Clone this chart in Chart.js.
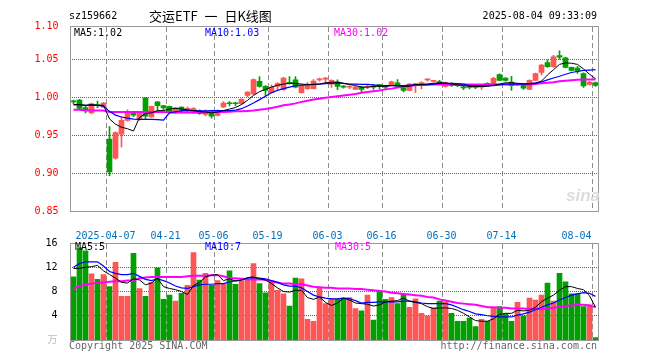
<!DOCTYPE html>
<html><head><meta charset="utf-8">
<script src="https://cdn.jsdelivr.net/npm/chart.js@4.4.1/dist/chart.umd.min.js"></script>
<style>
html,body{margin:0;padding:0;background:#fff;width:660px;height:360px;overflow:hidden;position:relative;}
canvas{position:absolute;left:0;}
.t{position:absolute;font:10px 'DejaVu Sans Mono',monospace;line-height:12px;white-space:pre;}
</style></head><body>
<canvas id="pc" width="660" height="240" style="top:0"></canvas>
<canvas id="vc" width="660" height="128" style="top:232px"></canvas>
<div class="t" style="left:69px;top:10px;color:#000">sz159662</div>
<div class="t" style="left:149px;top:7px;font:13px 'Noto Sans CJK SC',sans-serif;line-height:17px;word-spacing:4px;color:#000">交运ETF 一 日K线图</div>
<div class="t" style="right:63px;top:10px;color:#000">2025-08-04 09:33:09</div>
<div class="t" style="left:74px;top:27px;color:#000">MA5:1.02</div>
<div class="t" style="left:205px;top:27px;color:#0000ff">MA10:1.03</div>
<div class="t" style="left:334px;top:27px;color:#ff00ff">MA30:1.02</div>
<div class="t" style="left:75px;top:241px;color:#000">MA5:5</div>
<div class="t" style="left:205px;top:241px;color:#0000ff">MA10:7</div>
<div class="t" style="left:335px;top:241px;color:#ff00ff">MA30:5</div>
<div class="t" style="left:69px;top:340px;color:#666">Copyright 2025 SINA.COM</div>
<div class="t" style="right:63px;top:340px;color:#666">http://finance.sina.com.cn</div>
<div class="t" style="left:566px;top:186px;font:italic bold 17px 'Liberation Sans',sans-serif;color:#dcdcdc">sina</div>
<script>
const dates = ['03-27','03-28','03-31','04-01','04-02','04-03','04-07','04-08','04-09','04-10',
'04-11','04-14','04-15','04-16','04-17','04-18','04-21','04-22','04-23','04-24',
'04-25','04-28','04-29','04-30','05-06','05-07','05-08','05-09','05-12','05-13',
'05-14','05-15','05-16','05-19','05-20','05-21','05-22','05-23','05-26','05-27',
'05-28','05-29','05-30','06-03','06-04','06-05','06-06','06-09','06-10','06-11',
'06-12','06-13','06-16','06-17','06-18','06-19','06-20','06-23','06-24','06-25',
'06-26','06-27','06-30','07-01','07-02','07-03','07-04','07-07','07-08','07-09',
'07-10','07-11','07-14','07-15','07-16','07-17','07-18','07-21','07-22','07-23',
'07-24','07-25','07-28','07-29','07-30','07-31','08-01','08-04'];

const open = [0.995,0.997,0.987,0.980,0.990,0.9876,0.9455,0.920,0.952,0.970,
0.980,0.972,1.000,0.9745,0.9947,0.9895,0.9886,0.980,0.9876,0.9845,
0.980,0.983,0.978,0.980,0.9767,0.988,0.9925,0.9925,0.992,1.003,
1.005,1.0215,1.015,1.0066,1.015,1.0105,1.0195,1.0237,1.0066,1.012,
1.012,1.0235,1.0245,1.018,1.0205,1.0145,1.0138,1.011,1.014,1.0138,
1.0145,1.0163,1.0145,1.0168,1.0197,1.013,1.0096,1.0175,1.0166,1.0235,
1.0215,1.0205,1.015,1.019,1.0163,1.0133,1.0138,1.014,1.0138,1.018,
1.017,1.0307,1.0258,1.0205,1.0173,1.0175,1.011,1.023,1.0335,1.0465,
1.041,1.0555,1.0528,1.040,1.039,1.032,1.0175,1.020];

const close = [0.9945,0.986,0.983,0.992,0.9895,0.993,0.902,0.954,0.970,0.980,
0.977,0.981,0.9755,0.9886,0.9895,0.9865,0.9816,0.9868,0.9833,0.985,
0.9855,0.979,0.982,0.9755,0.983,0.993,0.992,0.992,0.998,1.0074,
1.024,1.015,1.0096,1.014,1.0185,1.0258,1.019,1.014,1.016,1.016,
1.0218,1.024,1.025,1.0228,1.015,1.014,1.0143,1.014,1.011,1.0143,
1.014,1.016,1.014,1.021,1.015,1.0096,1.018,1.018,1.020,1.024,
1.022,1.020,1.020,1.016,1.016,1.013,1.0135,1.0137,1.0142,1.0177,
1.0255,1.023,1.0228,1.016,1.0177,1.0126,1.023,1.032,1.043,1.041,
1.054,1.0535,1.040,1.036,1.035,1.0155,1.0205,1.0163];

const high = [0.997,0.998,0.9895,0.993,0.9955,0.994,0.962,0.955,0.975,0.984,
0.982,0.982,1.000,0.989,0.995,0.990,0.989,0.987,0.988,0.988,
0.987,0.984,0.984,0.981,0.984,0.995,0.995,0.994,0.999,1.008,
1.025,1.028,1.016,1.017,1.020,1.027,1.028,1.028,1.017,1.020,
1.024,1.026,1.027,1.0235,1.0235,1.016,1.016,1.015,1.015,1.017,
1.017,1.0175,1.0165,1.022,1.024,1.0135,1.0185,1.019,1.021,1.0245,
1.023,1.023,1.0205,1.0195,1.018,1.015,1.016,1.015,1.0155,1.0195,
1.027,1.0315,1.0265,1.0284,1.019,1.0178,1.0237,1.0325,1.044,1.050,
1.056,1.062,1.0535,1.0405,1.0415,1.033,1.0215,1.0205];

const low = [0.992,0.985,0.980,0.979,0.987,0.987,0.897,0.919,0.935,0.969,
0.975,0.970,0.972,0.974,0.983,0.984,0.981,0.979,0.980,0.980,
0.979,0.978,0.976,0.973,0.976,0.987,0.989,0.989,0.991,1.001,
1.004,1.014,1.002,1.006,1.0105,1.0095,1.018,1.013,1.006,1.011,
1.0115,1.022,1.019,1.0135,1.0105,1.0125,1.012,1.0105,1.0066,1.012,
1.011,1.0115,1.011,1.016,1.0145,1.0075,1.009,1.007,1.0115,1.022,
1.0205,1.018,1.014,1.015,1.0145,1.0105,1.0115,1.012,1.011,1.016,
1.0165,1.0225,1.022,1.0096,1.016,1.011,1.0105,1.0225,1.030,1.040,
1.040,1.051,1.0395,1.0355,1.032,1.0135,1.0165,1.015];

const ma5 = [0.991,0.991,0.990,0.991,0.990,0.990,0.972,0.965,0.961,0.959,
0.956,0.974,0.979,0.980,0.983,0.983,0.985,0.986,0.985,0.984,
0.983,0.9815,0.981,0.980,0.981,0.983,0.985,0.987,0.991,0.9965,
1.003,1.008,1.011,1.014,1.0165,1.018,1.019,1.019,1.018,1.0175,
1.0175,1.018,1.0197,1.0205,1.0205,1.019,1.0175,1.016,1.014,1.014,
1.015,1.015,1.0152,1.016,1.016,1.015,1.015,1.0175,1.0175,1.018,
1.019,1.0195,1.0195,1.018,1.017,1.016,1.015,1.0149,1.0149,1.0149,
1.0165,1.018,1.0197,1.0197,1.019,1.0185,1.018,1.019,1.022,1.030,
1.037,1.044,1.046,1.0455,1.044,1.038,1.031,1.025];

const ma10 = [0.9905,0.9905,0.990,0.990,0.990,0.989,0.982,0.977,0.9745,0.973,
0.9718,0.9715,0.9713,0.9713,0.971,0.9704,0.980,0.9815,0.9825,0.983,
0.983,0.9825,0.9825,0.983,0.983,0.983,0.983,0.9835,0.9855,0.989,
0.993,0.9975,1.002,1.0066,1.0096,1.012,1.014,1.016,1.0165,1.017,
1.0175,1.018,1.0185,1.019,1.0197,1.019,1.018,1.018,1.0175,1.0175,
1.017,1.016,1.016,1.016,1.016,1.016,1.0165,1.017,1.017,1.017,
1.018,1.019,1.019,1.019,1.0185,1.018,1.016,1.016,1.016,1.016,
1.016,1.017,1.018,1.018,1.018,1.018,1.0185,1.0195,1.021,1.0235,
1.026,1.0284,1.031,1.0333,1.0346,1.036,1.0365,1.037];

const ma30 = [0.984,0.984,0.983,0.983,0.983,0.983,0.981,0.981,0.981,0.981,
0.981,0.981,0.981,0.981,0.981,0.981,0.9805,0.9805,0.9805,0.9805,
0.9805,0.9805,0.9805,0.981,0.981,0.9812,0.9815,0.982,0.982,0.9825,
0.983,0.984,0.985,0.9865,0.988,0.990,0.991,0.9925,0.9945,0.996,
0.9975,0.9987,1.000,1.001,1.002,1.003,1.004,1.005,1.0066,1.0075,
1.0085,1.0096,1.011,1.012,1.0135,1.0145,1.0155,1.0165,1.017,1.0175,
1.0175,1.0175,1.0175,1.0175,1.0175,1.0175,1.0175,1.0175,1.0175,1.0175,
1.0175,1.0175,1.0175,1.0175,1.0175,1.0175,1.0175,1.018,1.019,1.0197,
1.0205,1.0218,1.0225,1.0232,1.0237,1.024,1.024,1.024];

const volume = [10.4,15.2,14.7,10.9,10.0,10.8,8.8,12.8,7.2,7.2,
14.3,8.5,7.2,9.5,11.9,6.7,7.4,6.4,7.7,9.0,
14.4,9.9,11.0,9.0,9.8,9.3,11.4,9.2,9.8,9.9,
12.6,9.3,7.8,9.7,8.2,7.6,5.6,10.2,10.1,3.4,
3.1,8.7,6.0,6.8,6.8,6.9,7.0,5.2,4.8,7.4,
3.3,8.1,6.7,7.0,6.0,7.5,5.4,6.8,4.4,4.0,
5.3,6.4,6.3,4.4,3.1,3.1,3.6,2.2,3.4,3.1,
5.3,5.5,4.3,3.1,6.2,4.0,6.9,6.6,7.4,9.4,
6.4,11.0,9.6,7.6,7.6,5.5,5.8,0.4];

const vma5 = [11.8,11.8,12.0,12.1,12.3,11.4,10.8,10.2,9.5,9.4,
10.1,9.9,9.1,9.4,10.2,8.8,8.5,8.3,8.0,7.5,
9.0,9.5,10.4,10.7,10.8,9.8,10.1,9.7,9.9,10.3,
10.4,10.1,9.9,9.3,8.6,8.0,7.9,8.2,8.2,7.0,
6.7,7.1,6.2,5.7,6.1,6.9,6.6,6.1,6.0,5.9,
5.6,5.8,6.3,6.4,6.5,6.9,6.4,6.2,6.0,5.5,
5.2,5.3,5.3,5.2,4.9,4.4,3.8,3.2,3.1,3.1,
3.5,4.2,4.4,4.4,4.9,4.8,4.9,5.4,6.3,6.9,
7.4,8.2,8.8,8.8,8.5,8.3,7.3,5.4];

const vma10 = [12.0,12.6,12.9,12.9,12.9,12.2,11.3,11.0,10.8,10.8,
11.0,10.5,10.0,9.8,10.1,9.8,9.4,8.9,8.6,8.5,
8.8,9.1,9.2,9.2,9.3,9.3,9.6,9.8,9.9,10.2,
10.3,10.2,10.1,9.8,9.5,9.1,8.9,8.9,8.6,8.0,
7.4,7.1,6.9,6.8,6.8,6.9,6.8,6.5,6.1,6.2,
6.2,6.3,6.3,6.3,6.3,6.4,6.4,6.3,6.1,6.0,
6.0,6.0,6.0,5.8,5.4,5.0,4.7,4.3,4.2,4.0,
3.9,3.8,3.8,3.8,4.1,4.3,4.6,5.0,5.4,5.8,
6.1,6.6,7.0,7.4,7.6,7.8,7.7,7.2];

const vma30 = [8.5,8.9,9.1,9.3,9.4,9.5,9.6,9.7,9.7,9.8,
9.8,10.2,10.3,10.4,10.4,10.4,10.4,10.4,10.4,10.5,
10.6,10.6,10.6,10.7,10.7,10.5,10.2,10.2,10.1,10.0,
10.0,10.0,9.9,9.7,9.5,9.3,9.3,9.2,9.2,9.0,
8.8,8.7,8.6,8.6,8.5,8.5,8.5,8.4,8.4,8.3,
8.2,8.1,8.0,7.8,7.7,7.6,7.5,7.4,7.3,7.1,
7.0,6.7,6.5,6.3,6.1,6.0,5.9,5.8,5.6,5.4,
5.4,5.3,5.3,5.2,5.2,5.2,5.1,5.1,5.1,5.2,
5.3,5.5,5.6,5.7,5.8,5.8,5.7,5.4];

const priceMin = 0.85, priceMax = 1.0947;
const priceTickVals = [0.85, 0.90, 0.95, 1.00, 1.05, 1.0947];
const priceTickLabels = ['0.85', '0.90', '0.95', '1.00', '1.05', '1.10'];
const volTickVals = [0, 4, 8, 12, 16];
const volTickLabels = ['万', '4', '8', '12', '16'];
const dateTickDates = ['04-07','04-21','05-06','05-19','06-03','06-16','06-30','07-14','08-04'];
const dateTickLabels = ['2025-04-07','04-21','05-06','05-19','06-03','06-16','06-30','07-14','08-04     '];

const UP = '#ff5555', DOWN = '#00a000';
const FONT = "'DejaVu Sans Mono', 'Noto Sans CJK SC', monospace";
const candleColor = dates.map((d, i) => close[i] >= open[i] ? UP : DOWN);
const bodies = dates.map((d, i) => [open[i], close[i]]);
const wicks = dates.map((d, i) => [low[i], high[i]]);
const gridIdx = dateTickDates.map(d => dates.indexOf(d));

const frame = {
  id: 'frame',
  afterDraw(c) {
    const {ctx, chartArea: a} = c;
    ctx.save();
    ctx.setLineDash([]);
    ctx.strokeStyle = '#999';
    ctx.lineWidth = 1;
    ctx.strokeRect(Math.floor(a.left) + 0.5, Math.floor(a.top) + 0.5,
      Math.round(a.right - a.left), Math.round(a.bottom - a.top));
    ctx.restore();
  }
};

// grid lines placed through the chart's own scales (drawn under the datasets)
function makeGrid(yLines) {
  return {
    id: 'gridlines',
    beforeDatasetsDraw(c) {
      const {ctx, chartArea: a} = c;
      const xs = c.scales.x, ys = c.scales.y;
      const half = (xs.getPixelForValue(1) - xs.getPixelForValue(0)) / 2;
      ctx.save();
      ctx.lineWidth = 1;
      ctx.strokeStyle = '#8c8c8c';
      ctx.setLineDash([5, 3]);
      for (const i of gridIdx) {
        const px = Math.floor(xs.getPixelForValue(i) - half) + 0.5;
        ctx.beginPath(); ctx.moveTo(px, Math.ceil(a.top) + 1); ctx.lineTo(px, Math.floor(a.bottom)); ctx.stroke();
      }
      ctx.strokeStyle = '#5e5e5e';
      ctx.setLineDash([1, 1]);
      const x0 = Math.ceil(a.left) + 1, x1 = Math.floor(a.right);
      for (let k = 0; k < yLines.length; k++) {
        const py = Math.floor(ys.getPixelForValue(yLines[k])) + 0.5;
        ctx.beginPath(); ctx.moveTo(x0, py); ctx.lineTo(x1, py); ctx.stroke();
      }
      ctx.restore();
    }
  };
}

function lineDs(data, color, width, order) {
  return {type: 'line', data, borderColor: color, borderWidth: width, pointRadius: 0,
    tension: 0, fill: false, order};
}

new Chart(document.getElementById('pc'), {
  type: 'bar',
  data: {
    labels: dates,
    datasets: [
      lineDs(ma5, '#000000', 1, 0),
      lineDs(ma10, '#0000ff', 1.2, 0),
      lineDs(ma30, '#ff00ff', 2, 1),
      {data: bodies, backgroundColor: candleColor, barThickness: 5, grouped: false,
        minBarLength: 1, borderWidth: 0, order: 2},
      {data: wicks, backgroundColor: candleColor, barThickness: 1, grouped: false,
        borderWidth: 0, order: 3}
    ]
  },
  options: {
    responsive: false, animation: false, devicePixelRatio: 1,
    layout: {padding: {top: 26, right: 61.5, left: 0, bottom: 0}},
    plugins: {legend: {display: false}, tooltip: {enabled: false}},
    scales: {
      x: {
        offset: true,
        grid: {display: false, offset: true},
        border: {display: false},
        ticks: {
          autoSkip: false, maxRotation: 0, minRotation: 0, padding: 11, labelOffset: -4,
          color: '#0070c0', font: {family: FONT, size: 10},
          callback: (v, i) => {
            const k = dateTickDates.indexOf(dates[i]);
            return k >= 0 ? dateTickLabels[k] : '';
          }
        },
        afterFit: s => { s.height = 28.7; }
      },
      y: {
        min: priceMin, max: priceMax,
        afterBuildTicks: s => { s.ticks = priceTickVals.map(v => ({value: v})); },
        grid: {display: false},
        border: {display: false},
        ticks: {padding: 4, color: '#ff0000', font: {family: FONT, size: 10},
          callback: (v, i) => priceTickLabels[i]},
        afterFit: s => { s.width = 70.5; }
      }
    }
  },
  plugins: [makeGrid(priceTickVals.slice(1, -1)), frame]
});

new Chart(document.getElementById('vc'), {
  type: 'bar',
  data: {
    labels: dates,
    datasets: [
      lineDs(vma5, '#000000', 1, 0),
      lineDs(vma10, '#0000ff', 1.2, 0),
      lineDs(vma30, '#ff00ff', 2, 1),
      {data: volume, backgroundColor: candleColor, barThickness: 5, borderWidth: 0, order: 2}
    ]
  },
  options: {
    responsive: false, animation: false, devicePixelRatio: 1,
    layout: {padding: {top: 8, right: 61.5, left: 0, bottom: 20}},
    plugins: {legend: {display: false}, tooltip: {enabled: false}},
    scales: {
      x: {
        offset: true,
        grid: {display: false, offset: true},
        border: {display: false},
        ticks: {display: false},
        afterFit: s => { s.height = 0; }
      },
      y: {
        min: 0, max: 16,
        afterBuildTicks: s => { s.ticks = volTickVals.map(v => ({value: v})); },
        grid: {display: false},
        border: {display: false},
        ticks: {padding: 5, font: {family: FONT, size: 10},
          color: ctx => ctx.index === 0 ? '#bbbbbb' : '#000000',
          callback: (v, i) => volTickLabels[i]},
        afterFit: s => { s.width = 70.5; }
      }
    }
  },
  plugins: [makeGrid(volTickVals.slice(1, -1)), frame]
});
</script>
</body></html>
